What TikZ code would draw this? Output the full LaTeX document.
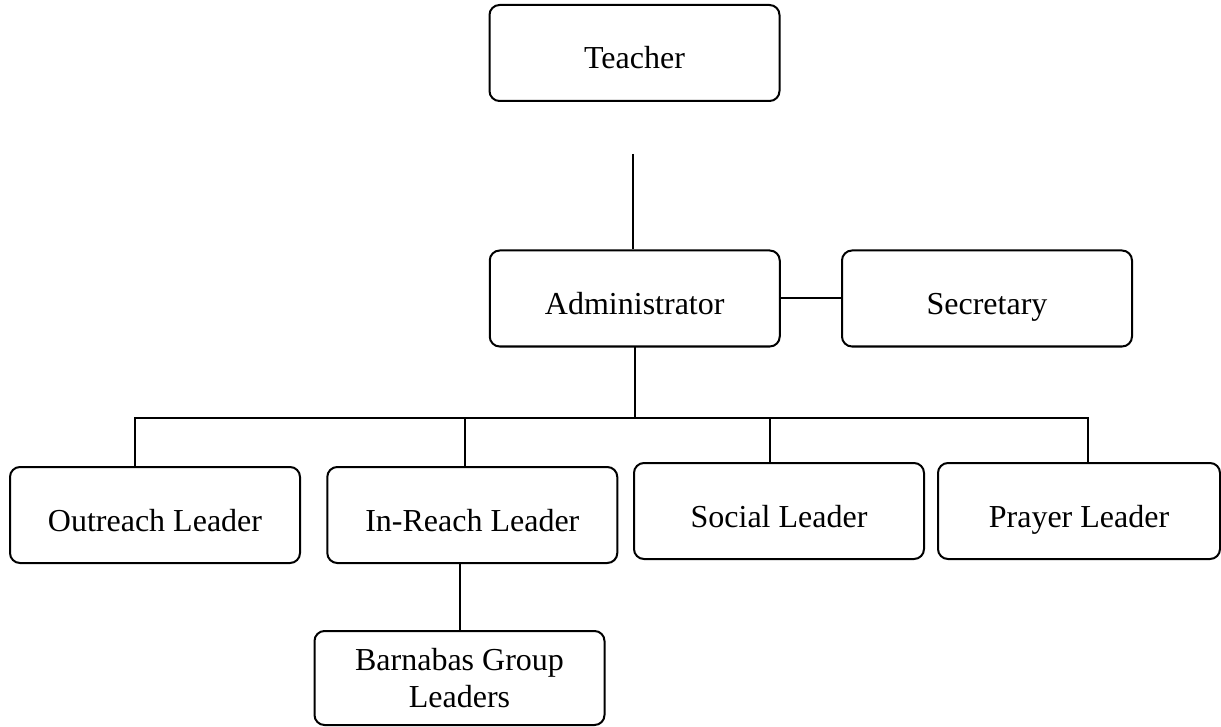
\documentclass[tikz,border=0pt]{standalone}
\usepackage{fontspec}
\setmainfont{Liberation Serif}
\usepackage{tikz}
\usetikzlibrary{positioning}
\tikzset{
	post/.style={draw, rounded corners=5pt, line width=1pt, minimum width=145pt, minimum height=48pt,
		inner sep=0pt, font=\fontsize{16}{18.5}\selectfont, text height=17.6pt, text depth=1.6pt},
	subpost/.style={post, align=center, text height=, text depth=}
}

\begin{document}
\begin{tikzpicture}[x=0.5pt, y=-0.5pt, line width=1pt]
		\useasboundingbox (0,0) rectangle (1221,727);
		\node[post] (teacher)  at (634.5,53)   {Teacher};
		\node[post] (admin)    at (634.75,298.5) {Administrator};
		\node[post] (sec)      at (987,298.5)  {Secretary};
		\node[post] (outreach) at (155,515)    {Outreach Leader};
		\node[post] (inreach)  at (472.3,515)  {In-Reach Leader};
		\node[post] (social)   at (779,511)    {Social Leader};
		\node[post, minimum width=141pt] (prayer) at (1079,511) {Prayer Leader};
		\node[subpost, minimum height=47pt] (barnabas) at (459.5,678) {Barnabas Group\\Leaders};
		
		\coordinate (tstub) at (633,154);
		\coordinate (bus)   at (634.75,418);
		\coordinate (busL)  at (134.7,418);
		\coordinate (busR)  at (1087.6,418);
		\coordinate (dropin) at (465,418);
		\coordinate (dropso) at (769.5,418);
		
		\draw (tstub) -- (tstub |- admin.north);
		\draw (admin.east) -- (sec.west);
		\draw (admin.south) -- (bus);
		\draw (busL |- outreach.north) -- (busL) -- (busR) -- (busR |- prayer.north);
		\draw (dropin) -- (dropin |- inreach.north);
		\draw (dropso) -- (dropso |- social.north);
		
		\draw (inreach.south -| barnabas.north) -- (barnabas.north);
	\end{tikzpicture}
\end{document}
